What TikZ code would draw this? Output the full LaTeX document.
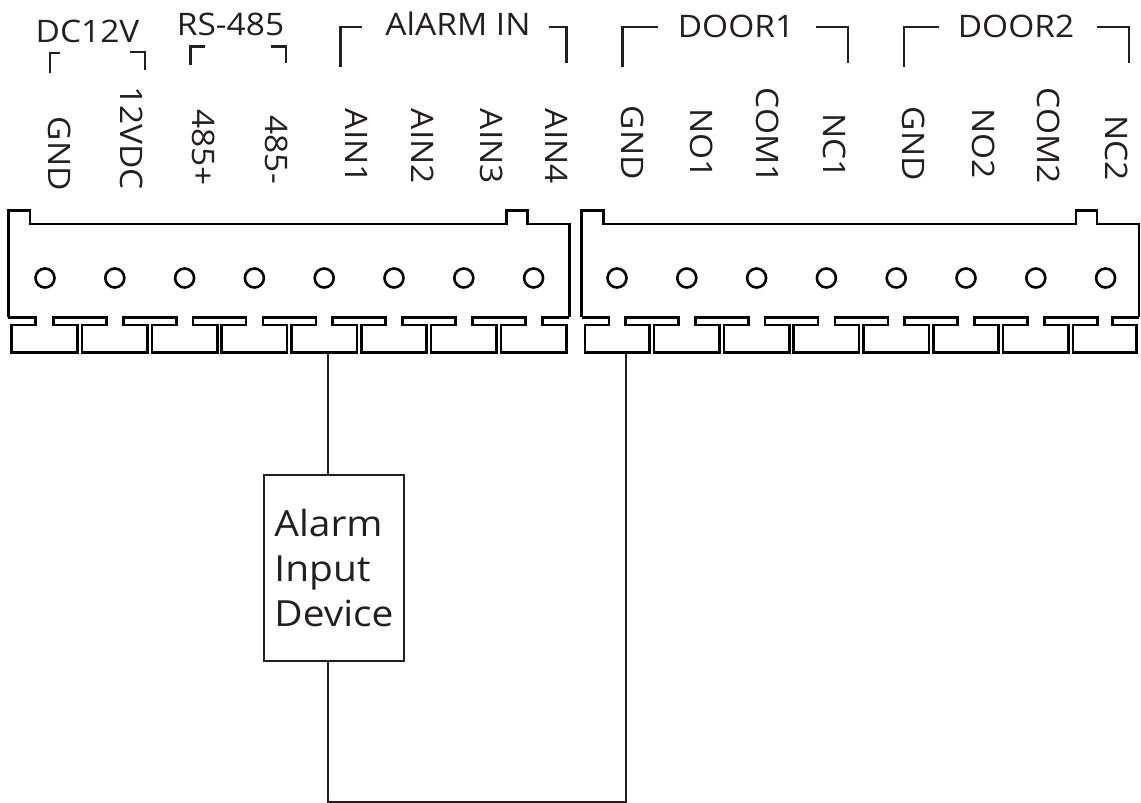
\documentclass[tikz,border=0pt]{standalone}
\usepackage{fontspec}
\setmainfont[FakeStretch=1.08]{Open Sans}
\definecolor{ink}{HTML}{231F20}

\begin{document}
\begin{tikzpicture}[x=1pt, y=-1pt,
    housing/.style={line width=2.6pt, black, line join=miter},
    wire/.style={line width=2pt, ink},
    bracket/.style={line width=2.6pt, ink},
    pinlabel/.style={rotate=-90, anchor=east, inner sep=0pt, text=ink, font=\fontsize{31}{36}\selectfont},
    grouplabel/.style={anchor=base, inner sep=0pt, text=ink, font=\fontsize{31}{36}\selectfont},
    devbox/.style={draw=ink, line width=2pt, minimum width=140pt, minimum height=186pt, align=left, text=ink, font=\fontsize{36}{45}\selectfont}]

\useasboundingbox (0,0) rectangle (1141,803);

% terminal blocks
\foreach \xl/\xr/\pa in {8.3/569.3/45, 581.7/1139/617}{
  \draw[housing] (\xl,317.3) -- (\xl,210.7) -- ({\xl+21.5},210.7) -- ({\xl+21.5},224) -- ({\xr-63},224) -- ({\xr-63},210.7) -- ({\xr-42},210.7) -- ({\xr-42},224) -- (\xr,224) -- (\xr,317.3);
  \draw[housing] (\xl,317.3) -- ({\xl+27.2},317.3) -- ({\xl+27.2},325) -- ({\xl+3.4},325) -- ({\xl+3.4},352.7)
    \foreach \k [evaluate=\k as \s using \pa+34.9+\k*69.8] in {0,...,6}{
      -- ({\s-2.2},352.7) -- ({\s-2.2},325) -- ({\s-26.5},325) -- ({\s-26.5},317.3) -- ({\s+26.5},317.3) -- ({\s+26.5},325) -- ({\s+2.2},325) -- ({\s+2.2},352.7)}
    -- ({\xr-2.6},352.7) -- ({\xr-2.6},325) -- ({\xr-26.6},325) -- ({\xr-26.6},317.3) -- (\xr,317.3);
  \foreach \k in {0,...,7}
    \draw[housing] ({\pa+\k*69.8},278) circle (9.5pt);
}

% pin names
\foreach \x/\y/\t [count=\i] in {60/191/GND, 132/190/12VDC, 204/186/485+, 277/184/485-, 357/184/AIN1, 423/184/AIN2, 492/184/AIN3, 557/184/AIN4, 633/180/GND, 702/179/NO1, 768/184/COM1, 835/179/NC1, 914/181/GND, 984/179/NO2, 1049/184/COM2, 1117/181/NC2}
  \node[pinlabel] (lab\i) at (\x,\y) {\t};

% groups
\node[grouplabel] (dc) at (87.5,42) {DC12V};
\node[grouplabel] (rs) at (230.5,35) {RS-485};
\node[grouplabel] (alarm) at (458,35) {AlARM IN};
\node[grouplabel] (door1) at (736,37) {DOOR1};
\node[grouplabel] (door2) at (1016,37) {DOOR2};

\draw[bracket] (50,73) -- (50,53) -- (60,53);
\draw[bracket] (130,52) -- (145,52) -- (145,70);
\draw[bracket] (190.7,65) -- (190.7,46.7) -- (205,46.7);
\draw[bracket] (270.7,46.7) -- (286,46.7) -- (286,62.7);
\draw[bracket] (340.7,67) -- (340.7,27) -- (361.7,27);
\draw[bracket] (549,27) -- (566.7,27) -- (566.7,63);
\draw[bracket] (622.7,67) -- (622.7,27) -- (658,27);
\draw[bracket] (816,27) -- (848,27) -- (848,63);
\draw[bracket] (904,67) -- (904,27) -- (939,27);
\draw[bracket] (1097,27) -- (1129,27) -- (1129,63);

% wiring
\coordinate (ain1) at (328,352.7);
\coordinate (gnd1) at (626,352.7);
\node[devbox] (dev) at (334,568) {Alarm\\Input\\Device};
\draw[wire] (ain1) -- (ain1 |- dev.north);
\draw[wire] (ain1 |- dev.south) -- ++(0,140) -| (gnd1);
\end{tikzpicture}
\end{document}
